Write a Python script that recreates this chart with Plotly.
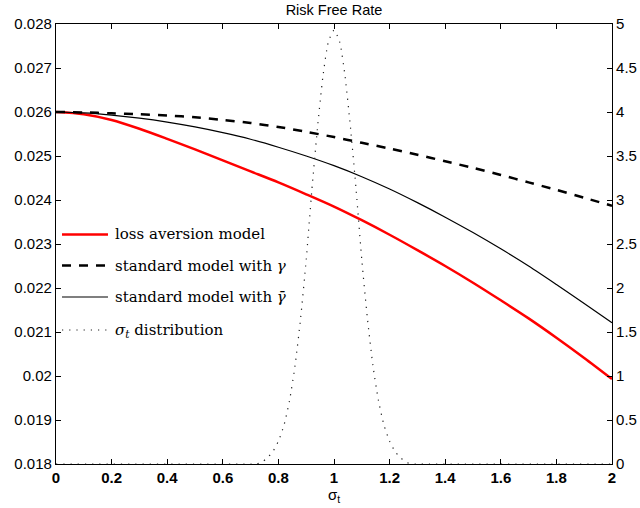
import plotly.graph_objects as go

# volatility grid for the three rate curves
sigma = [0.0, 0.1, 0.2, 0.3, 0.4, 0.5, 0.6, 0.7, 0.8, 0.9, 1.0,
         1.1, 1.2, 1.3, 1.4, 1.5, 1.6, 1.7, 1.8, 1.9, 2.0]

# risk free rate under each model
rf_loss_aversion = [0.02600, 0.02595, 0.02582, 0.02562, 0.02539, 0.02515,
                    0.02490, 0.02465, 0.02440, 0.02413, 0.02385, 0.02354,
                    0.02321, 0.02286, 0.02250, 0.02212, 0.02172, 0.02131,
                    0.02087, 0.02041, 0.01993]
rf_standard_gamma = [0.02600, 0.02599, 0.02597, 0.02595, 0.02592, 0.02588,
                     0.02582, 0.02575, 0.02566, 0.02555, 0.02543, 0.02530,
                     0.02517, 0.02503, 0.02488, 0.02473, 0.02457, 0.02440,
                     0.02423, 0.02405, 0.02387]
rf_standard_gammabar = [0.02600, 0.02598, 0.02593, 0.02586, 0.02577, 0.02566,
                        0.02553, 0.02538, 0.02520, 0.02500, 0.02478, 0.02453,
                        0.02425, 0.02394, 0.02361, 0.02326, 0.02289, 0.02250,
                        0.02208, 0.02165, 0.02121]

# density of sigma_t (right axis)
dist_x = [0.0, 0.70, 0.72, 0.74, 0.76, 0.78, 0.80, 0.82, 0.84, 0.86, 0.88,
          0.90, 0.92, 0.94, 0.96, 0.98, 1.00, 1.02, 1.04, 1.06, 1.08, 1.10,
          1.12, 1.14, 1.16, 1.18, 1.20, 1.22, 1.24, 1.26, 1.28, 1.30, 2.0]
dist_y = [0.0, 0.0, 0.0, 0.02, 0.07, 0.14, 0.26, 0.44, 0.72, 1.12, 1.66,
          2.32, 3.10, 3.80, 4.40, 4.80, 4.93, 4.80, 4.40, 3.80, 3.10, 2.32,
          1.66, 1.12, 0.72, 0.44, 0.26, 0.14, 0.07, 0.02, 0.0, 0.0, 0.0]

x_ticks = [0, 0.2, 0.4, 0.6, 0.8, 1.0, 1.2, 1.4, 1.6, 1.8, 2.0]
y_ticks = [0.018, 0.019, 0.020, 0.021, 0.022, 0.023, 0.024, 0.025, 0.026, 0.027, 0.028]
y_tick_labels = ["0.018", "0.019", "0.02", "0.021", "0.022", "0.023",
                 "0.024", "0.025", "0.026", "0.027", "0.028"]
y2_ticks = [0, 0.5, 1, 1.5, 2, 2.5, 3, 3.5, 4, 4.5, 5]

legend_labels = [
    "loss aversion model",
    "standard model with <i>γ</i>",
    "standard model with <i>γ̄</i>",
    "<i>σ</i><sub><i>t</i></sub> distribution",
]

RED = "#ff0000"
SANS = "Liberation Sans, Arial, sans-serif"
SERIF = "DejaVu Serif, serif"

line_styles = [
    dict(color=RED, width=2.5, dash="solid"),
    dict(color="black", width=2.5, dash="9px,8px"),
    dict(color="black", width=1.2, dash="solid"),
    dict(color="#222222", width=1.2, dash="1.2px,6px"),
]

fig = go.Figure()
fig.add_trace(go.Scatter(x=sigma, y=rf_loss_aversion, mode="lines",
                         line=dict(**line_styles[0], shape="spline", smoothing=0.8),
                         showlegend=False))
fig.add_trace(go.Scatter(x=sigma, y=rf_standard_gamma, mode="lines",
                         line=dict(**line_styles[1], shape="spline", smoothing=0.8),
                         showlegend=False))
fig.add_trace(go.Scatter(x=sigma, y=rf_standard_gammabar, mode="lines",
                         line=dict(**line_styles[2], shape="spline", smoothing=0.8),
                         showlegend=False))
fig.add_trace(go.Scatter(x=dist_x, y=dist_y, mode="lines", yaxis="y2",
                         line=dict(**line_styles[3], shape="spline", smoothing=0.6),
                         showlegend=False))

# hand-placed legend (no frame), left side of the axes
legend_y = [0.5216, 0.4511, 0.3795, 0.3045]
for label, style, ly in zip(legend_labels, line_styles, legend_y):
    fig.add_shape(type="line", xref="paper", yref="paper",
                  x0=0.0108, x1=0.0935, y0=ly, y1=ly,
                  line=dict(color=style["color"], width=style["width"],
                            dash=style["dash"]))
    fig.add_annotation(xref="paper", yref="paper", x=0.1025, y=ly,
                       xanchor="left", yanchor="middle", showarrow=False,
                       text=label, font=dict(family=SERIF, size=15, color="black"))

axis_common = dict(showline=True, linecolor="black", linewidth=1.2,
                   ticks="inside", ticklen=5, tickcolor="black", tickwidth=1,
                   showgrid=False, zeroline=False)

fig.update_layout(
    width=640, height=508,
    margin=dict(l=56, r=28, t=24, b=44),
    paper_bgcolor="white", plot_bgcolor="white",
    title=dict(text="Risk Free Rate", x=0.5, xref="paper", y=0.980,
               yref="container", yanchor="middle", xanchor="center",
               font=dict(family=SANS, size=14.5, color="black")),
    xaxis=dict(range=[0, 2], tickvals=x_ticks, mirror="ticks",
               tickfont=dict(family=SANS, size=15, color="black", weight="bold"),
               title=dict(text="σ<sub>t</sub>", standoff=4,
                          font=dict(family=SANS, size=15, color="black")),
               automargin=False, **axis_common),
    yaxis=dict(range=[0.018, 0.028], tickvals=y_ticks, ticktext=y_tick_labels,
               tickfont=dict(family=SANS, size=15, color="black"),
               automargin=False, **axis_common),
    yaxis2=dict(range=[0, 5], tickvals=y2_ticks, overlaying="y", side="right",
                tickfont=dict(family=SANS, size=15, color="black"),
                automargin=False, **axis_common),
)

fig.write_html("out.html")
